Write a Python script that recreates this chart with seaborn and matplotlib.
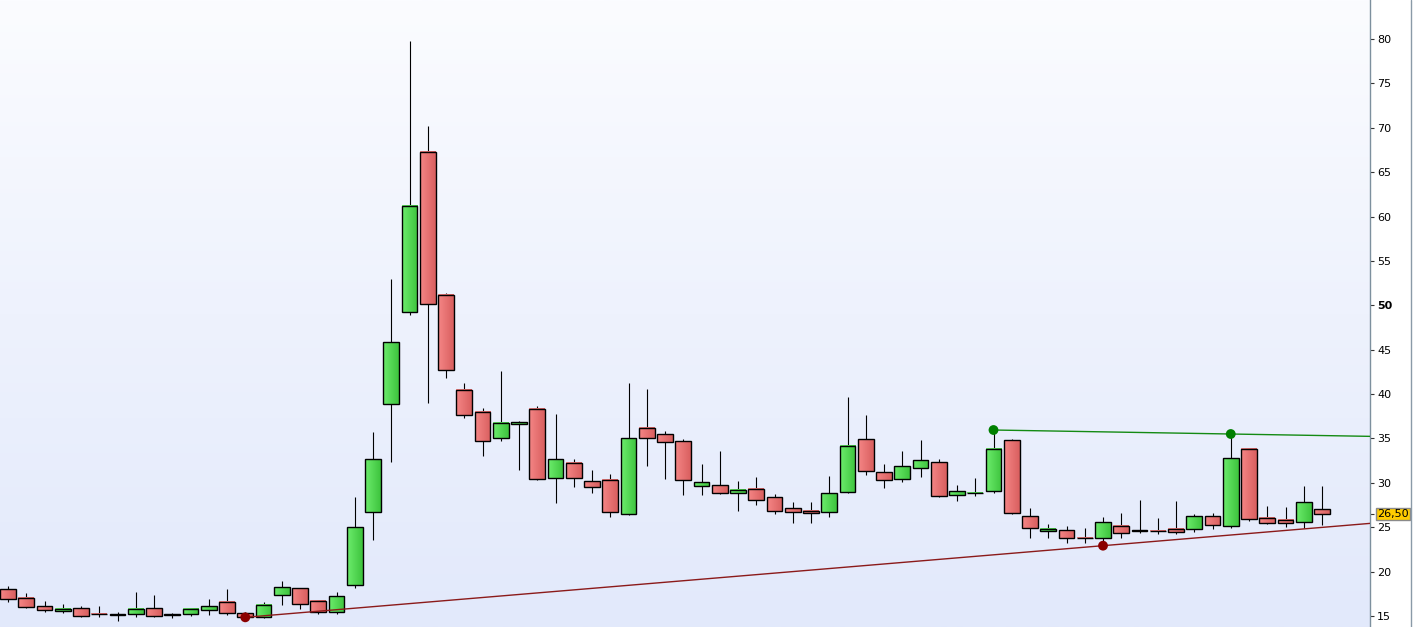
import numpy as np
import pandas as pd
import matplotlib
matplotlib.use("Agg")
import matplotlib.pyplot as plt
import seaborn as sns
from matplotlib.colors import LinearSegmentedColormap
from matplotlib.lines import Line2D
import matplotlib.transforms as mtransforms

# ---------------- data ----------------
opens = [18.0, 17.0, 16.1, 15.53, 15.87, 15.23, 15.2, 15.19, 15.87, 15.2,
         15.19, 15.71, 16.54, 15.3, 14.85, 17.33, 18.12, 16.66, 15.42, 18.46,
         26.68, 38.85, 49.2, 67.24, 51.13, 40.43, 37.95, 35.02, 36.6, 38.29,
         30.51, 32.2, 30.17, 30.29, 26.46, 36.15, 35.47, 34.68, 29.61, 29.72,
         28.82, 29.27, 28.37, 27.13, 26.8, 26.68, 28.93, 34.9, 31.19, 30.4,
         31.64, 32.31, 28.6, 28.8, 29.08, 34.79, 26.23, 24.54, 24.65, 23.8,
         23.79, 25.11, 24.65, 24.55, 24.77, 24.77, 26.23, 25.11, 33.78, 26.01,
         25.78, 25.56, 27.02]
highs = [18.4, 17.6, 16.65, 16.35, 16.1, 16.1, 15.42, 17.7, 17.37, 15.35,
         15.9, 16.92, 18.04, 15.45, 16.54, 18.9, 18.15, 16.7, 17.7, 28.41,
         35.73, 53.0, 79.8, 70.2, 51.4, 41.25, 38.43, 42.6, 36.97, 38.66,
         37.76, 32.69, 31.45, 31.0, 41.25, 40.57, 35.84, 34.9, 32.12, 33.59,
         30.17, 30.63, 28.7, 27.8, 27.8, 30.74, 39.64, 37.6, 32.09, 33.55,
         34.88, 32.65, 29.72, 30.5, 35.95, 34.9, 27.17, 25.36, 25.14, 24.91,
         26.15, 26.57, 28.07, 26.04, 27.96, 26.46, 26.57, 35.5, 33.8, 27.39,
         27.28, 29.65, 29.65]
lows = [16.6, 15.95, 15.5, 15.3, 14.9, 14.85, 14.47, 14.92, 14.92, 14.8,
        15.05, 15.15, 15.08, 14.8, 14.8, 16.2, 15.76, 15.19, 15.19, 18.2,
        23.6, 32.38, 48.9, 39.0, 41.85, 37.3, 33.06, 34.68, 31.5, 30.3,
        27.76, 29.57, 28.9, 26.2, 26.35, 31.93, 30.47, 28.67, 28.67, 28.7,
        26.8, 27.47, 26.46, 25.44, 25.44, 26.12, 28.82, 30.85, 29.39, 30.06,
        30.63, 28.4, 27.92, 28.48, 28.9, 26.46, 23.75, 23.75, 23.19, 23.19,
        22.9, 23.75, 24.4, 24.2, 24.2, 24.42, 24.77, 24.88, 25.67, 25.4,
        25.0, 24.88, 25.22]
closes = [16.9, 15.98, 15.65, 15.76, 14.97, 15.22, 15.1, 15.76, 15.03, 15.1,
          15.76, 16.09, 15.3, 14.85, 16.21, 18.23, 16.32, 15.42, 17.22, 24.99,
          32.65, 45.83, 61.15, 50.1, 42.68, 37.6, 34.68, 36.71, 36.82, 30.4,
          32.65, 30.5, 29.5, 26.68, 35.02, 35.02, 34.57, 30.29, 30.06, 28.82,
          29.16, 28.03, 26.8, 26.68, 26.57, 28.82, 34.12, 31.3, 30.29, 31.86,
          32.54, 28.48, 29.05, 28.85, 33.85, 26.57, 24.91, 24.77, 23.75, 23.75,
          25.56, 24.32, 24.55, 24.54, 24.42, 26.23, 25.22, 32.77, 25.89, 25.44,
          25.44, 27.81, 26.5]

# trendline pivots (candle index, price)
support_idx = [13, 60]
support_val = [14.85, 22.92]
resist_idx = [54, 67]
resist_val = [35.95, 35.5]

y_ticks = [15, 20, 25, 30, 35, 40, 45, 50, 55, 60, 65, 70, 75, 80]
last_price_label = "26,50"
last_price = 26.5

df = pd.DataFrame({"open": opens, "high": highs, "low": lows, "close": closes})
df["idx"] = np.arange(len(df))
df["up"] = df["close"] >= df["open"]

# ---------------- figure ----------------
sns.set_style("white")
plt.rcParams["font.family"] = ["DejaVu Sans"]

W, H = 1413, 627
fig = plt.figure(figsize=(W / 100, H / 100), dpi=100, facecolor="white")
ax = fig.add_axes([0, 0, 1370 / W, 1])

xmin, xmax = -0.44, 74.63
ymin, ymax = 13.76, 84.39

# background gradient
grad = np.linspace(0, 1, 256).reshape(-1, 1)
bg_cmap = LinearSegmentedColormap.from_list("bg", ["#e2e9fb", "#eef2fd", "#fbfcff"])
ax.imshow(grad, extent=[0, 1, 0, 1], transform=ax.transAxes, aspect="auto",
          cmap=bg_cmap, origin="lower", zorder=0)

# wicks
ax.vlines(df["idx"], df["low"], df["high"], color="black", linewidth=0.8, zorder=2)

# bodies with horizontal gradient
bw = 0.86
green_cmap = LinearSegmentedColormap.from_list("g", ["#6cec6c", "#3ec43e"])
red_cmap = LinearSegmentedColormap.from_list("r", ["#f58686", "#d95f5f"])
hgrad = np.linspace(0, 1, 32).reshape(1, -1)
for _, r in df.iterrows():
    lo = min(r["open"], r["close"])
    hi = max(r["open"], r["close"])
    if hi - lo < 0.05:
        hi = lo + 0.05
    ax.imshow(hgrad, extent=[r["idx"] - bw / 2, r["idx"] + bw / 2, lo, hi],
              aspect="auto", cmap=green_cmap if r["up"] else red_cmap,
              origin="lower", zorder=3, interpolation="bilinear")
body_h = np.maximum((df["close"] - df["open"]).abs(), 0.05)
ax.bar(df["idx"], body_h, bottom=np.minimum(df["open"], df["close"]), width=bw,
       facecolor="none", edgecolor="black", linewidth=1.0, zorder=4)

# trendlines extended to the right edge
def extend(idx, val):
    slope = (val[1] - val[0]) / (idx[1] - idx[0])
    return [idx[0], xmax], [val[0], val[0] + slope * (xmax - idx[0])]

sx, sy = extend(support_idx, support_val)
rx, ry = extend(resist_idx, resist_val)
sns.lineplot(x=sx, y=sy, ax=ax, color="#8b1a1a", linewidth=1.0, zorder=5)
sns.lineplot(x=rx, y=ry, ax=ax, color="#138a13", linewidth=1.0, zorder=5)
sns.scatterplot(x=support_idx, y=support_val, ax=ax, color="#8b0000", s=50,
                edgecolor="none", zorder=6)
sns.scatterplot(x=resist_idx, y=resist_val, ax=ax, color="#008000", s=50,
                edgecolor="none", zorder=6)

ax.set_xlim(xmin, xmax)
ax.set_ylim(ymin, ymax)

# axes styling
for s in ["top", "bottom", "left"]:
    ax.spines[s].set_visible(False)
ax.spines["right"].set_visible(True)
ax.spines["right"].set_color("#7d909e")
ax.spines["right"].set_linewidth(1.0)
ax.set_xticks([])
ax.yaxis.tick_right()
ax.set_yticks(y_ticks)
ax.set_yticklabels([str(t) for t in y_ticks])
ax.set_yticks([last_price], minor=True)
ax.tick_params(axis="y", which="both", direction="out", length=3, width=0.8,
               color="#333333", labelsize=8, pad=2, labelcolor="black")
for lab in ax.get_yticklabels():
    if lab.get_text() == "50":
        lab.set_fontweight("bold")
ax.set_xlabel("")
ax.set_ylabel("")
ax.grid(False)

# last price label
trans = mtransforms.blended_transform_factory(ax.transAxes, ax.transData)
ax.text(1.0 + 7 / 1370, last_price, last_price_label, transform=trans,
        fontsize=8, va="center", ha="left", color="black", zorder=10,
        bbox=dict(boxstyle="square,pad=0.12", facecolor="#ffcc00",
                  edgecolor="#8a8a8a", linewidth=1.0), clip_on=False)

# right border line
fig.add_artist(Line2D([1411 / W, 1411 / W], [0, 1], transform=fig.transFigure,
                      color="#8a9aa8", linewidth=1.0))

fig.savefig("out.png", dpi=100)
